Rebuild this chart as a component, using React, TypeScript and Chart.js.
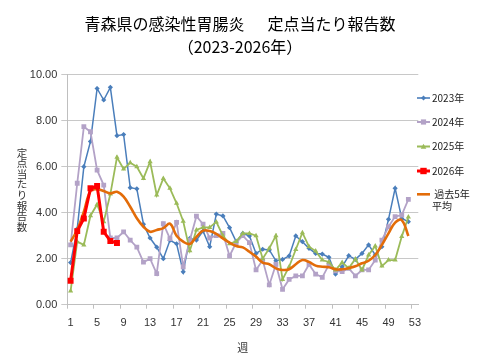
import React, { useEffect, useRef } from "react";
import { Chart, registerables } from "chart.js";

Chart.register(...registerables);

const weeks = [
  "1","2","3","4","5","6","7","8","9","10","11","12","13","14","15","16","17","18","19","20",
  "21","22","23","24","25","26","27","28","29","30","31","32","33","34","35","36","37","38","39","40",
  "41","42","43","44","45","46","47","48","49","50","51","52","53",
];
const shownWeekLabels = ["1","5","9","13","17","21","25","29","33","37","41","45","49","53"];

const y2023 = [1.83, 3.3, 6.0, 7.1, 9.4, 8.9, 9.45, 7.35, 7.4, 5.09, 5.04, 3.5, 2.9, 2.5, 2.0, 2.8, 2.65, 1.43, 2.88, 2.81, 3.2, 2.52, 3.94, 3.86, 3.35, 2.74, 3.1, 2.99, 2.23, 2.41, 2.38, 1.91, 1.97, 2.12, 2.99, 2.74, 2.45, 2.23, 2.2, 2.06, 1.33, 1.65, 2.13, 1.97, 2.23, 2.6, 2.16, 2.52, 3.71, 5.06, 3.75, 3.61];
const y2024 = [2.6, 5.28, 7.74, 7.52, 5.85, 5.2, 2.9, 2.9, 3.17, 2.81, 2.5, 1.85, 2.0, 1.35, 3.52, 2.87, 3.58, 1.65, 2.8, 3.85, 3.5, 2.9, 3.0, 3.1, 2.12, 2.7, 3.0, 2.7, 1.51, 1.94, 0.86, 1.75, 0.67, 1.1, 1.25, 1.25, 1.75, 1.33, 1.19, 1.73, 1.47, 1.44, 1.58, 1.25, 1.51, 1.51, 1.94, 2.81, 3.39, 3.83, 3.9, 4.58];
const y2025 = [0.6, 2.74, 2.6, 3.87, 4.36, 3.61, 4.81, 6.41, 5.9, 6.17, 6.0, 5.49, 6.22, 4.77, 5.49, 5.06, 4.41, 3.63, 2.35, 3.25, 3.36, 3.36, 3.6, 3.0, 2.65, 2.75, 3.1, 3.1, 3.0, 2.0, 2.45, 3.0, 1.1, 1.65, 2.4, 3.13, 2.52, 2.33, 1.94, 1.86, 1.51, 1.83, 1.59, 1.99, 1.51, 2.16, 2.55, 1.68, 1.94, 1.94, 2.96, 3.81];
const y2026 = [1.04, 3.2, 3.75, 5.06, 5.16, 3.17, 2.77, 2.68];
const yAvg5 = [2.74, 3.25, 4.04, 4.94, 5.02, 4.94, 4.84, 4.91, 4.7, 4.26, 3.76, 3.39, 3.17, 3.25, 3.33, 3.52, 3.0, 2.74, 2.64, 2.95, 3.22, 3.2, 3.08, 2.88, 2.7, 2.55, 2.49, 2.3, 2.09, 1.83, 1.76, 1.58, 1.51, 1.54, 1.76, 1.94, 1.86, 1.7, 1.65, 1.63, 1.54, 1.54, 1.59, 1.67, 1.8, 1.91, 2.16, 2.6, 3.1, 3.57, 3.68, 2.99];

const seriesNames = ["2023年", "2024年", "2025年", "2026年", "過去5年平均"];
const legendTextLines = [["2023年"], ["2024年"], ["2025年"], ["2026年"], [" 過去5年", "平均"]];
const titleLines = ["青森県の感染性胃腸炎　  定点当たり報告数", "（2023-2026年）"];
const yAxisTitle = "定点当たり報告数";
const xAxisTitle = "週";

const C2023 = "#4a7ebb";
const C2024 = "#b3a2c7";
const C2025 = "#9bbb59";
const C2026 = "#ff0000";
const CAVG = "#e36c09";

const CJK = '"Noto Sans CJK JP", "Noto Sans", sans-serif';
const NUM = '"Liberation Sans", Arial, sans-serif';

function drawMarker(ctx: CanvasRenderingContext2D, kind: string, x: number, y: number, s: number, color: string) {
  ctx.fillStyle = color;
  ctx.beginPath();
  if (kind === "diamond") {
    ctx.moveTo(x, y - s);
    ctx.lineTo(x + s, y);
    ctx.lineTo(x, y + s);
    ctx.lineTo(x - s, y);
    ctx.closePath();
    ctx.fill();
  } else if (kind === "square") {
    ctx.rect(x - s, y - s, 2 * s, 2 * s);
    ctx.fill();
  } else if (kind === "triangle") {
    ctx.moveTo(x, y - s);
    ctx.lineTo(x + s, y + s * 0.8);
    ctx.lineTo(x - s, y + s * 0.8);
    ctx.closePath();
    ctx.fill();
  }
}

const legendSpec = [
  { color: C2023, width: 1.6, marker: "diamond", size: 2.5, y: 98 },
  { color: C2024, width: 2, marker: "square", size: 2.6, y: 122 },
  { color: C2025, width: 2, marker: "triangle", size: 2.8, y: 146.5 },
  { color: C2026, width: 3, marker: "square", size: 3.2, y: 171 },
  { color: CAVG, width: 2.6, marker: "none", size: 0, y: 194.3 },
];

const sidePlugin = {
  id: "sideTexts",
  afterDraw(chart: any) {
    const ctx: CanvasRenderingContext2D = chart.ctx;
    const area = chart.chartArea;
    ctx.save();
    // vertical stacked y-axis title
    ctx.font = "10.5px " + CJK;
    ctx.fillStyle = "#333333";
    ctx.textAlign = "center";
    ctx.textBaseline = "middle";
    const chars = Array.from(yAxisTitle);
    const step = 10.6;
    const cy = (area.top + area.bottom) / 2;
    const y0 = cy - ((chars.length - 1) * step) / 2;
    chars.forEach((c, i) => ctx.fillText(c, 22, y0 + i * step));

    // legend
    legendSpec.forEach((spec, i) => {
      ctx.strokeStyle = spec.color;
      ctx.lineWidth = spec.width;
      ctx.beginPath();
      ctx.moveTo(417, spec.y);
      ctx.lineTo(430, spec.y);
      ctx.stroke();
      if (spec.marker !== "none") drawMarker(ctx, spec.marker, 423.5, spec.y, spec.size, spec.color);
      ctx.font = "10px " + CJK;
      ctx.fillStyle = "#222222";
      ctx.textAlign = "left";
      ctx.textBaseline = "middle";
      legendTextLines[i].forEach((t, j) => ctx.fillText(t, 432, spec.y + j * 12.4));
    });
    ctx.restore();
  },
};

export default function App() {
  const ref = useRef<HTMLCanvasElement | null>(null);

  useEffect(() => {
    if (!ref.current) return;
    const chart = new Chart(ref.current, {
      type: "line",
      data: {
        labels: weeks,
        datasets: [
          {
            label: seriesNames[3],
            data: y2026,
            borderColor: C2026,
            backgroundColor: C2026,
            borderWidth: 3,
            pointStyle: "rect",
            pointRadius: 4.2,
            pointBorderWidth: 0,
            tension: 0,
            order: 0,
          },
          {
            label: seriesNames[4],
            data: yAvg5,
            borderColor: CAVG,
            backgroundColor: CAVG,
            borderWidth: 2.6,
            pointRadius: 0,
            tension: 0.4,
            order: 1,
          },
          {
            label: seriesNames[2],
            data: y2025,
            borderColor: C2025,
            backgroundColor: C2025,
            borderWidth: 1.8,
            pointStyle: "triangle",
            pointRadius: 3,
            pointBorderWidth: 0,
            tension: 0,
            order: 2,
          },
          {
            label: seriesNames[1],
            data: y2024,
            borderColor: C2024,
            backgroundColor: C2024,
            borderWidth: 1.8,
            pointStyle: "rect",
            pointRadius: 3.4,
            pointBorderWidth: 0,
            tension: 0,
            order: 3,
          },
          {
            label: seriesNames[0],
            data: y2023,
            borderColor: C2023,
            backgroundColor: C2023,
            borderWidth: 1.5,
            pointStyle: "rectRot",
            pointRadius: 2.6,
            pointBorderWidth: 0,
            tension: 0,
            order: 4,
          },
        ],
      },
      options: {
        animation: false,
        responsive: false,
        maintainAspectRatio: false,
        layout: { padding: { left: 0, right: 0, top: 0, bottom: 0 } },
        plugins: {
          legend: { display: false },
          tooltip: { enabled: false },
          title: {
            display: true,
            text: titleLines,
            color: "#000000",
            font: { family: CJK, size: 16, weight: "normal", lineHeight: 1.4375 },
            padding: { top: 12, bottom: 16.7 },
          },
        },
        scales: {
          x: {
            type: "category",
            offset: true,
            afterFit: (s: any) => {
              s.height = 55.3;
            },
            grid: {
              offset: true,
              drawOnChartArea: false,
              drawTicks: true,
              tickLength: 4,
              color: (c: any) => (c.index % 4 === 0 ? "#bfbfbf" : "rgba(0,0,0,0)"),
            },
            border: { display: true, color: "#bfbfbf", width: 1 },
            ticks: {
              autoSkip: false,
              maxRotation: 0,
              minRotation: 0,
              padding: 8,
              color: "#333333",
              font: { family: NUM, size: 11 },
              callback: (_v: any, i: number) => (shownWeekLabels.includes(weeks[i]) ? weeks[i] : ""),
            },
            title: {
              display: true,
              text: xAxisTitle,
              color: "#333333",
              font: { family: CJK, size: 11, lineHeight: 1.2 },
              padding: { top: 0, bottom: 6 },
            },
          },
          y: {
            min: 0,
            max: 10,
            afterFit: (s: any) => {
              s.width = 67.3;
            },
            grid: {
              color: "#c8c8c8",
              lineWidth: 1,
              drawTicks: true,
              tickLength: 6,
            },
            border: { display: true, color: "#bfbfbf", width: 1 },
            ticks: {
              stepSize: 2,
              padding: 4,
              color: "#333333",
              font: { family: NUM, size: 11 },
              callback: (v: any) => Number(v).toFixed(2),
            },
          },
          legendSpace: {
            type: "linear",
            position: "right",
            display: true,
            afterFit: (s: any) => {
              s.width = 61.7;
            },
            grid: { display: false, drawTicks: false },
            border: { display: false },
            ticks: { display: false },
            title: { display: false },
          },
        },
      },
      plugins: [sidePlugin],
    } as any);
    return () => chart.destroy();
  }, []);

  return (
    <div style={{ position: "fixed", left: 0, top: 0, width: 480, height: 360, background: "#ffffff" }}>
      <canvas ref={ref} width={480} height={360} style={{ width: 480, height: 360 }} />
    </div>
  );
}
